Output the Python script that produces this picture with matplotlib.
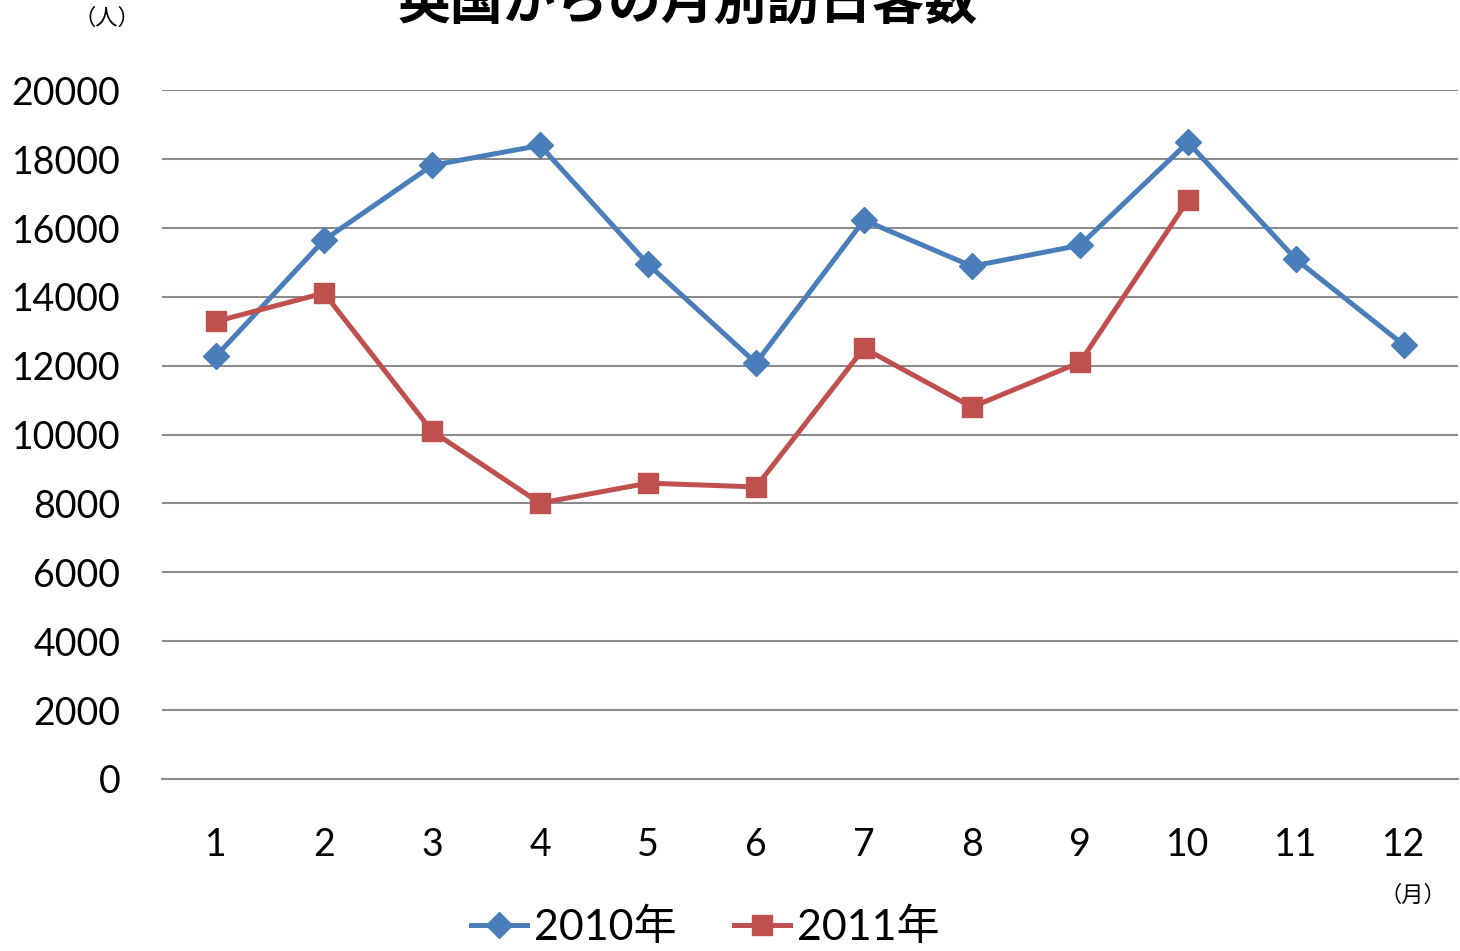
import matplotlib.pyplot as plt
from matplotlib.ticker import FixedLocator

plt.rcParams['font.family'] = ['Lato', 'Noto Sans CJK JP', 'DejaVu Sans']

months = list(range(1, 13))
month_labels = [str(m) for m in months]
visitors_2010 = [12280, 15650, 17820, 18400, 14950, 12080,
                 16230, 14890, 15500, 18490, 15090, 12600]
months_2011 = list(range(1, 11))
visitors_2011 = [13290, 14110, 10100, 8010, 8590, 8480,
                 12510, 10800, 12100, 16810]
yticks = list(range(0, 20001, 2000))

blue = '#4A7EBB'
red = '#C0504D'
grid_c = '#8C8C8C'

fig = plt.figure(figsize=(14.6, 9.51), dpi=100)
ax = fig.add_axes([0.111, 0.181, 0.8876, 0.724])

ax.plot(months, visitors_2010, c=blue, lw=3.6, marker='D', ms=13,
        label='2010年', zorder=3)
ax.plot(months_2011, visitors_2011, c=red, lw=3.6, marker='s', ms=14,
        label='2011年', zorder=3)

ax.set_xlim(0.5, 12.5)
ax.set_ylim(0, 20000)
ax.yaxis.set_major_locator(FixedLocator(yticks))
ax.set_xticks(months)
ax.set_xticklabels(month_labels)
ax.yaxis.grid(True, color=grid_c, lw=1.5)
ax.set_axisbelow(True)
for s in ['top', 'right', 'left']:
    ax.spines[s].set_visible(False)
ax.spines['bottom'].set_color(grid_c)
ax.spines['bottom'].set_linewidth(1.5)
ax.tick_params(axis='both', length=0, labelsize=27)
ax.tick_params(axis='y', pad=30)
ax.tick_params(axis='x', pad=35)

fig.text(0.471, 0.997, '英国からの月別訪日客数', ha='center', va='center',
         fontsize=38, fontweight='bold', family=['Noto Sans CJK JP'])
fig.text(0.073, 0.981, '（人）', ha='center', va='center', fontsize=16,
         family=['Noto Sans CJK JP'])
fig.text(0.968, 0.059, '（月）', ha='center', va='center', fontsize=16,
         family=['Noto Sans CJK JP'])

fig.legend(loc='center', bbox_to_anchor=(0.483, 0.025), ncol=2, frameon=False,
           fontsize=31, handlelength=1.3, handletextpad=0.15,
           columnspacing=1.35, borderpad=0)

fig.savefig('out.png', dpi=100)
